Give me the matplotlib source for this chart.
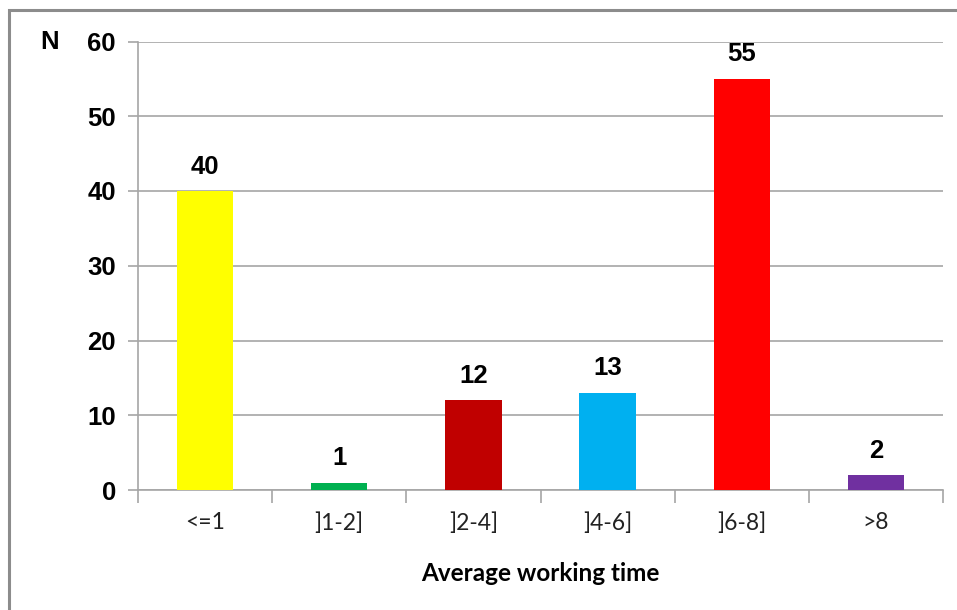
import matplotlib
matplotlib.use("Agg")
import matplotlib.pyplot as plt
from matplotlib.patches import Rectangle

categories = ["<=1", "]1-2]", "]2-4]", "]4-6]", "]6-8]", ">8"]
counts = [40, 1, 12, 13, 55, 2]
bar_colors = ["#FFFF00", "#00B050", "#C00000", "#00B0F0", "#FF0000", "#7030A0"]
y_ticks = [0, 10, 20, 30, 40, 50, 60]

W, H = 957, 610
fig = plt.figure(figsize=(W / 100, H / 100), dpi=100)
fig.patch.set_facecolor("white")

# outer chart frame
fig.patches.append(Rectangle((9 / W, -0.05), 1.1, 1 - 10 / H + 0.05,
                             transform=fig.transFigure, fill=False,
                             edgecolor="#8c8c8c", linewidth=2.2, zorder=0))

ax = fig.add_axes([138 / W, 1 - 490 / H, (943 - 138) / W, (490 - 41.5) / H])
x = list(range(len(categories)))
ax.bar(x, counts, width=0.42, color=bar_colors, zorder=3)

ax.set_xlim(-0.5, len(categories) - 0.5)
ax.set_ylim(0, 60)
ax.set_yticks(y_ticks)
ax.set_yticklabels([str(v) for v in y_ticks], fontfamily="Liberation Sans",
                   fontweight="bold", fontsize=18.5)
ax.yaxis.grid(True, color="#a6a6a6", linewidth=1.2, zorder=0)
ax.tick_params(axis="y", length=7, width=1.2, color="#a6a6a6", pad=9)

# category labels centred, tick marks on the boundaries
ax.set_xticks(x)
ax.set_xticklabels(categories, fontfamily="Lato", fontsize=16.5, color="#222222")
ax.tick_params(axis="x", which="major", length=0, pad=16)
ax.set_xticks([i - 0.5 for i in range(len(categories) + 1)], minor=True)
ax.tick_params(axis="x", which="minor", length=9, width=1.2, color="#a6a6a6")

for s in ["top", "right"]:
    ax.spines[s].set_visible(False)
for s in ["left", "bottom"]:
    ax.spines[s].set_color("#a6a6a6")
    ax.spines[s].set_linewidth(1.2)

for xi, v in zip(x, counts):
    ax.annotate(str(v), (xi, v), xytext=(0, 9), textcoords="offset points",
                ha="center", va="bottom", fontfamily="Liberation Sans",
                fontweight="bold", fontsize=18.5)

ax.set_xlabel("Average working time", fontfamily="Lato", fontweight="bold",
              fontsize=17.5, labelpad=20)
fig.text(50 / W, 1 - 42 / H, "N", fontfamily="Liberation Sans",
         fontweight="bold", fontsize=18.5, ha="center", va="center")

fig.savefig("out.png", dpi=100)
